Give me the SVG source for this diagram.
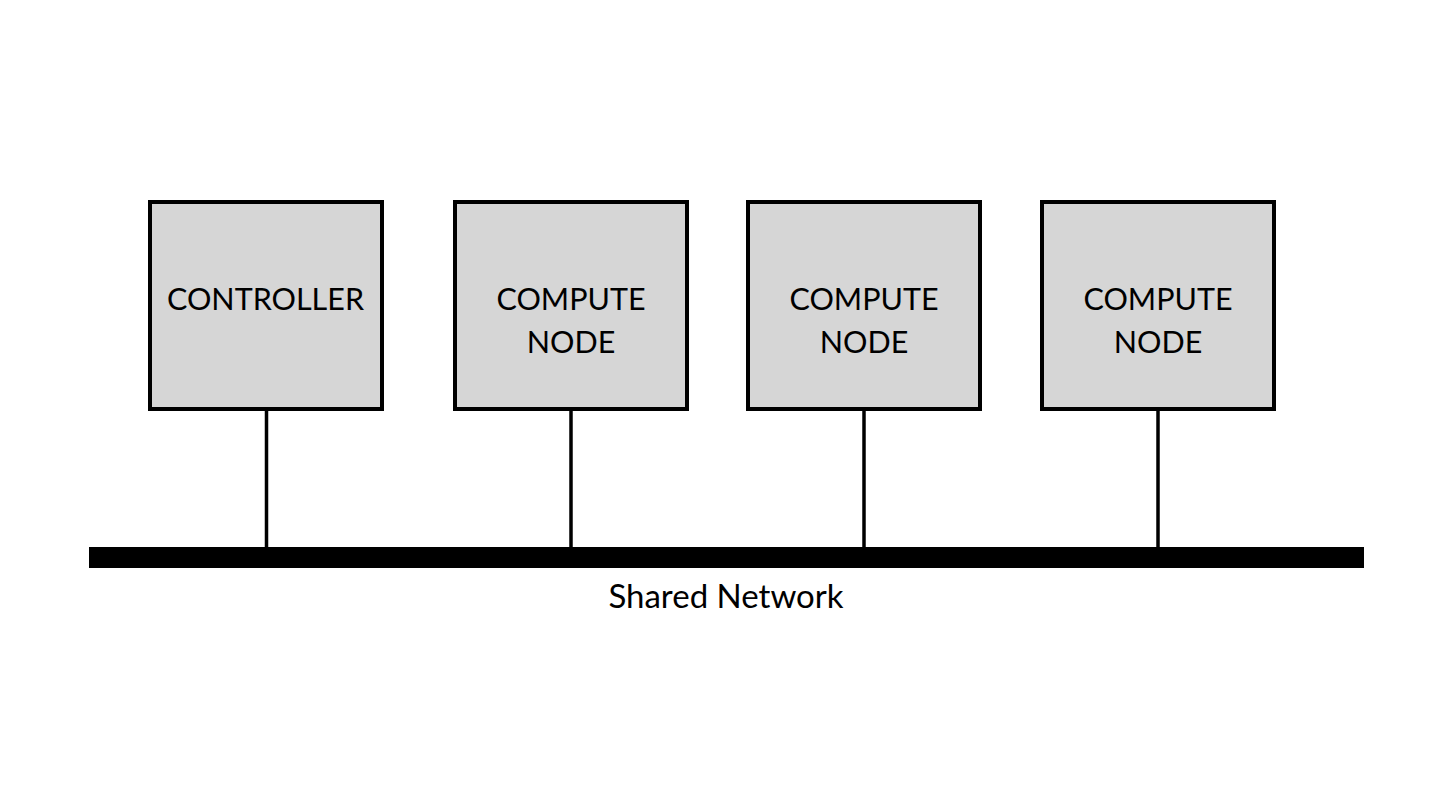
<svg xmlns="http://www.w3.org/2000/svg" width="1440" height="810" viewBox="0 0 1440 810">
<style>
.box{fill:#d6d6d6;stroke:#000;stroke-width:4}
.lbl{font-family:Lato,"Open Sans",sans-serif;font-size:30.5px;fill:#000;text-anchor:middle}
.net{font-family:Lato,"Open Sans",sans-serif;font-size:33px;fill:#000;text-anchor:middle}
.wire{stroke:#000;stroke-width:3.5;fill:none}
</style>
<rect width="1440" height="810" fill="#fff"/>
<g id="connectors">
<line class="wire" x1="266.5" y1="409" x2="266.5" y2="548"/>
<line class="wire" x1="571" y1="409" x2="571" y2="548"/>
<line class="wire" x1="864" y1="409" x2="864" y2="548"/>
<line class="wire" x1="1158" y1="409" x2="1158" y2="548"/>
</g>
<g id="network">
<rect x="89" y="547" width="1275" height="21" fill="#000"/>
<text class="net" x="726" y="608">Shared Network</text>
</g>
<g id="controller">
<rect class="box" x="150" y="202" width="232" height="207"/>
<text class="lbl" x="265.5" y="310">CONTROLLER</text>
</g>
<g id="compute1">
<rect class="box" x="455" y="202" width="232" height="207"/>
<text class="lbl" x="571" y="310">COMPUTE</text>
<text class="lbl" x="571" y="353">NODE</text>
</g>
<g id="compute2">
<rect class="box" x="748" y="202" width="232" height="207"/>
<text class="lbl" x="864" y="310">COMPUTE</text>
<text class="lbl" x="864" y="353">NODE</text>
</g>
<g id="compute3">
<rect class="box" x="1042" y="202" width="232" height="207"/>
<text class="lbl" x="1158" y="310">COMPUTE</text>
<text class="lbl" x="1158" y="353">NODE</text>
</g>
</svg>
